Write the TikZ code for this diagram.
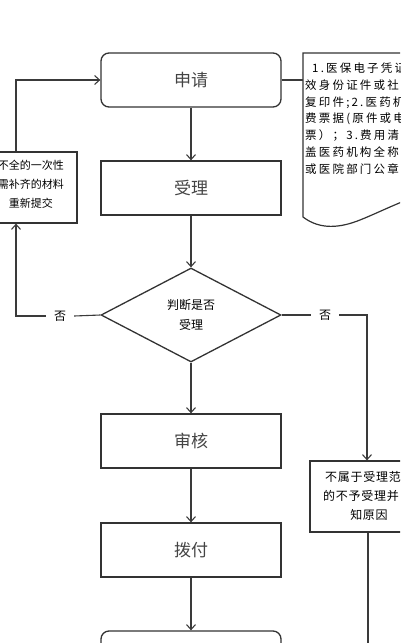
\documentclass[tikz,border=0pt]{standalone}
\usepackage{fontspec}
\newfontfamily\cjk{Noto Sans CJK SC}
\newfontfamily\cjksp[LetterSpace=19]{Noto Sans CJK SC}
\newfontfamily\cjkrs[LetterSpace=6]{Noto Sans CJK SC}
\usetikzlibrary{shapes.geometric,arrows.meta}
\definecolor{linegray}{HTML}{3A3A3A}
\definecolor{boxgray}{HTML}{333333}
\definecolor{textgray}{HTML}{444444}
\begin{document}
\begin{tikzpicture}[x=1pt,y=-1pt,
  line/.style={draw=linegray, line width=1.1pt},
  arr/.style={line, -{Straight Barb[length=5pt,width=9pt]}},
  box/.style={draw=boxgray, line width=1.3pt, minimum width=180pt, minimum height=54pt,
    inner sep=0pt, font=\cjk\fontsize{17}{20}\selectfont, text=textgray},
  rbox/.style={box, rounded corners=8pt},
  side/.style={draw=boxgray, line width=1.2pt, inner sep=0pt},
  small/.style={font=\cjk\fontsize{12}{20}\selectfont, text=black, inner sep=0pt},
  nolabel/.style={font=\cjk\fontsize{12}{14}\selectfont, text=black, inner xsep=8pt, inner ysep=1pt}
]
\useasboundingbox (0,0) rectangle (400,643);
\clip (0,0) rectangle (400,643);

% main column
\node[rbox] (apply) at (191,80) {申请};
\node[box] (accept) at (191,188) {受理};
\node[diamond, draw=boxgray, line width=1.3pt, minimum width=180pt, minimum height=94pt,
      inner sep=0pt, align=center, font=\cjk\fontsize{12}{20}\selectfont] (judge) at (191,315) {判断是否\\受理};
\node[box] (review) at (191,441) {审核};
\node[box] (pay) at (191,550) {拨付};
\node[rbox] (final) at (191,658) {};

% note (document shape)
\draw[side, line width=1.2pt] (303,53) -- (440,53) -- (440,190)
  .. controls (410,196) and (385,210) .. (360,220)
  .. controls (340,228) and (320,230) .. (303,217) -- cycle;
\coordinate (noteW) at (303,80);
\node[anchor=west, align=left, inner sep=0pt, font=\cjksp\fontsize{11.5}{16.8}\selectfont, text=black]
  (notetxt) at (305,118.5)
  {\hspace{7pt}1.医保电子凭证\\效身份证件或社\\复印件;2.医药机\\费票据(原件或电\\票）；3.费用清单\\盖医药机构全称\\或医院部门公章};

% left box
\node[side, minimum width=92pt, minimum height=71pt] (lack) at (31,187.5) {};
\node[align=center, inner sep=0pt, font=\cjk\fontsize{11}{19}\selectfont, text=black]
  (lacktxt) at (31,184) {不全的一次性\\需补齐的材料\\重新提交};

% right box
\node[side, minimum width=118pt, minimum height=71pt] (reject) at (369,496.5) {};
\node[small, anchor=west, font=\cjkrs\fontsize{12}{14}\selectfont] (rj1) at (325,477) {不属于受理范};
\node[small, anchor=west, font=\cjkrs\fontsize{12}{14}\selectfont] (rj2) at (323,496) {的不予受理并};
\node[small, font=\cjkrs\fontsize{12}{14}\selectfont] (rj3) at (369,515) {知原因};

% 否 labels
\node[nolabel] (noL) at (60,316) {否};
\node[nolabel] (noR) at (325,315) {否};

% coordinates
\coordinate (lt) at (16,80);
\coordinate (lb) at (16,316);
\coordinate (rt) at (367,315);
\coordinate (rb) at (368,660);

% connectors
\draw[arr] (apply.south) -- (accept.north);
\draw[arr] (accept.south) -- (judge.north);
\draw[arr] (judge.south) -- (review.north);
\draw[arr] (review.south) -- (pay.north);
\draw[arr] (pay.south) -- (final.north);
\draw[line] (apply.east) -- (noteW);
\draw[arr] (lack.north -| lt) -- (lt) -- (apply.west);
\draw[line] (judge.west) -- (noL.east);
\draw[arr] (noL.west) -- (lb) -- (lack.south -| lb);
\draw[line] (judge.east) -- (noR.west);
\draw[arr] (noR.east) -- (rt) -- (reject.north -| rt);
\draw[line] (reject.south -| rb) -- (rb);
\end{tikzpicture}
\end{document}
